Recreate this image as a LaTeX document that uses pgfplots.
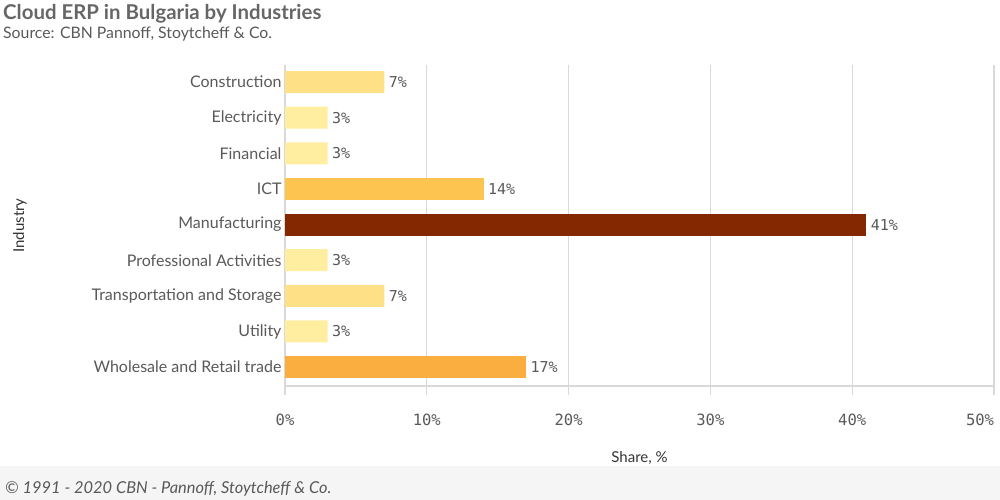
\documentclass[border=0pt]{standalone}
\usepackage{pgfplots}
\pgfplotsset{compat=1.18}
\usepackage{fontspec}
\setmainfont{Lato}
\setmonofont{DejaVu Sans Mono}
\definecolor{cA}{HTML}{FFEDA0}
\definecolor{cB}{HTML}{FEE187}
\definecolor{cC}{HTML}{FDC550}
\definecolor{cD}{HTML}{FBAE40}
\definecolor{cE}{HTML}{832800}
\definecolor{txt}{HTML}{595959}
\definecolor{ttl}{HTML}{666666}
\definecolor{gridc}{HTML}{D9D9D9}
\begin{document}
\begin{tikzpicture}[x=1pt,y=1pt]
\path[use as bounding box] (0,0) rectangle (1000,-500);
\fill[black!4] (0,-466) rectangle (1000,-500);
\node[anchor=base west, font=\fontsize{20.4}{22}\selectfont\bfseries, text=ttl, inner sep=0] at (3,-20) {Cloud ERP in Bulgaria by Industries};
\node[anchor=base west, font=\fontsize{15.8}{18}\selectfont, text=txt, inner sep=0] at (3,-39) {Source: CBN Pannoff, Stoytcheff \& Co.};
\node[anchor=base west, font=\fontsize{16.4}{18}\selectfont\itshape, text=txt, inner sep=0] at (5,-493) {\textcopyright{} 1991 - 2020 CBN - Pannoff, Stoytcheff \& Co.};
\begin{axis}[
  at={(285pt,-386pt)}, anchor=south west,
  scale only axis, width=709pt, height=321pt,
  xmin=0, xmax=50, ymin=-0.48, ymax=8.53, y dir=reverse,
  xbar, bar width=22pt, bar shift=0pt,
  axis x line*=bottom, axis y line*=left,
  axis line style={draw=gridc, line width=1.2pt, -},
  xmajorgrids, grid style={draw=gridc, line width=1.2pt},
  tick align=outside, major tick length=9pt,
  xtick={0,10,20,30,40,50},
  xticklabels={0\%,10\%,20\%,30\%,40\%,\llap{50\%}},
  xtick style={draw=gridc, line width=1.2pt},
  xticklabel style={font=\ttfamily\fontsize{15.5}{17}\selectfont, text=txt, yshift=-15pt},
  ytick={0,1,2,3,4,5,6,7,8},
  yticklabels={Construction,Electricity,Financial,ICT,Manufacturing,Professional Activities,Transportation and Storage,Utility,Wholesale and Retail trade},
  ytick style={draw=none},
  yticklabel style={font=\fontsize{16}{18}\selectfont, text=txt, xshift=9pt},
  xlabel={Share, \%},
  ylabel={Industry},
  every axis x label/.style={at={(axis description cs:0.5,0)}, anchor=center, yshift=-72pt, font=\fontsize{15}{17}\selectfont, text=black!80},
  every axis y label/.style={at={([xshift=-265pt]axis description cs:0,0.5)}, rotate=90, anchor=center, font=\fontsize{15}{17}\selectfont, text=black!80},
  nodes near coords={\pgfmathprintnumber[assume math mode=true]{\pgfplotspointmeta}\%},
  nodes near coords style={font=\ttfamily\fontsize{15}{17}\selectfont, text=txt, anchor=west, xshift=1pt},
  clip=false,
]
\addplot[fill=cB, draw=none] coordinates {(7,0) (7,6)};
\addplot[fill=cA, draw=none] coordinates {(3,1) (3,2) (3,5) (3,7)};
\addplot[fill=cC, draw=none] coordinates {(14,3)};
\addplot[fill=cE, draw=none] coordinates {(41,4)};
\addplot[fill=cD, draw=none] coordinates {(17,8)};
\end{axis}
\end{tikzpicture}
\end{document}
